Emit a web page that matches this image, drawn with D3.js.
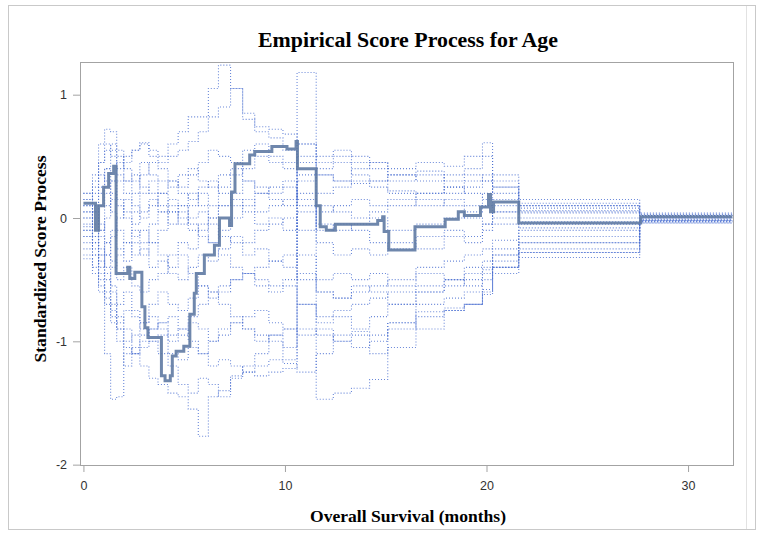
<!DOCTYPE html>
<html>
<head>
<meta charset="utf-8">
<script src="https://cdn.jsdelivr.net/npm/d3@7/dist/d3.min.js"></script>
<style>
body { margin: 0; background: #fff; }
</style>
</head>
<body>
<script>
//time grid shared by the simulated paths (months)
var simTimes = [0, 0.45, 0.75, 1.05, 1.35, 1.65, 2.0, 2.4, 2.8, 3.25, 3.7, 4.2, 4.7, 5.2, 5.7, 6.2, 6.7, 7.3, 7.9, 8.5, 9.2, 9.9, 10.6, 11.55, 12.4, 13.3, 14.2, 15.1, 16.5, 17.9, 18.9, 19.8, 20.3, 21.6, 27.6, 32.2];

//simulated score paths, one value per interval of simTimes
var sim1 = [0.15, 0.3, 0.45, 0.55, 0.6, 0.5, 0.45, 0.55, 0.6, 0.55, 0.5, 0.6, 0.7, 0.82, 0.82, 1.05, 1.24, 1.05, 0.85, 0.7, 0.65, 0.55, 0.45, 0.35, 0.3, 0.28, 0.3, 0.22, 0.2, 0.25, 0.3, 0.35, 0.25, 0.1, 0.03];
var sim2 = [-0.1, -0.2, -0.35, -0.5, -0.7, -0.85, -0.75, -0.8, -0.9, -1.0, -0.95, -1.1, -1.15, -1.05, -1.1, -1.2, -1.15, -1.2, -1.25, -1.28, -1.25, -1.22, 1.18, -1.47, -1.42, -1.38, -1.31, -1.05, -0.76, -0.73, -0.7, -0.58, -0.4, -0.28, -0.02];
var sim3 = [0.05, -0.15, -0.6, -1.1, -1.47, -1.45, -1.1, -1.05, -0.95, -0.9, -0.85, -0.95, -0.9, -0.8, -0.7, -0.6, -0.55, -0.5, -0.45, -0.5, -0.55, -0.5, -0.45, -0.6, -0.65, -0.6, -0.55, -0.5, -0.45, -0.5, -0.4, -0.35, -0.3, -0.2, -0.03];
var sim4 = [0.2, 0.35, 0.6, 0.72, 0.7, 0.55, 0.4, 0.3, 0.45, 0.35, 0.3, 0.25, 0.35, 0.4, 0.3, 0.25, 0.35, 0.4, 0.3, 0.2, 0.25, 0.3, 0.1, -0.1, -0.05, -0.1, -0.2, -0.25, -0.15, -0.1, -0.15, -0.05, 0.05, 0.12, 0.04];
var sim5 = [-0.3, -0.45, -0.55, -0.7, -0.8, -0.9, -1.05, -1.1, -1.2, -1.3, -1.35, -1.42, -1.45, -1.55, -1.77, -1.45, -1.4, -1.28, -1.25, -1.2, -1.15, -1.18, -1.25, -1.1, -0.95, -0.92, -0.95, -0.85, -0.7, -0.65, -0.6, -0.5, -0.4, -0.25, -0.04];
var sim6 = [0.1, 0.25, 0.45, 0.6, 0.5, 0.4, 0.5, 0.55, 0.61, 0.5, 0.45, 0.5, 0.55, 0.62, 0.7, 0.82, 0.9, 1.05, 0.8, 0.74, 0.72, 0.68, 0.6, 0.5, 0.55, 0.5, 0.45, 0.4, 0.45, 0.42, 0.5, 0.61, 0.35, 0.15, 0.02];
var sim7 = [-0.15, -0.05, 0.1, 0.2, 0.05, -0.1, -0.2, -0.3, -0.25, -0.4, -0.35, -0.45, -0.5, -0.4, -0.3, -0.35, -0.25, -0.15, -0.2, -0.1, -0.05, 0.0, -0.1, 0.05, 0.1, 0.15, 0.1, 0.15, 0.2, 0.25, 0.2, 0.15, 0.1, 0.05, 0.01];
var sim8 = [0.0, -0.1, -0.25, -0.4, -0.55, -0.7, -0.6, -0.75, -0.85, -0.8, -0.9, -1.0, -0.95, -0.85, -0.9, -1.0, -0.95, -0.85, -0.8, -0.75, -0.85, -0.9, -0.95, -0.9, -1.0, -0.95, -1.1, -0.85, -0.9, -0.75, -0.7, -0.62, -0.4, -0.32, -0.03];
var sim9 = [-0.07, 0.05, 0.25, 0.4, 0.55, 0.35, 0.3, 0.2, 0.35, 0.45, 0.4, 0.3, 0.25, 0.35, 0.45, 0.55, 0.5, 0.45, 0.4, 0.5, 0.45, 0.4, 0.35, 0.4, 0.45, 0.35, 0.3, 0.35, 0.38, 0.3, 0.35, 0.3, 0.2, 0.08, 0.03];
var sim10 = [-0.2, -0.3, -0.45, -0.6, -0.75, -0.9, -1.0, -0.95, -0.85, -0.7, -0.6, -0.7, -0.75, -0.65, -0.55, -0.6, -0.7, -0.8, -0.9, -0.95, -1.0, -1.05, -0.3, -0.5, -0.45, -0.5, -0.45, -0.55, -0.4, -0.35, -0.3, -0.25, -0.18, -0.05, -0.02];
var sim11 = [0.15, 0.05, -0.1, 0.0, 0.15, 0.3, 0.2, 0.1, 0.0, 0.1, 0.2, 0.3, 0.2, 0.15, 0.25, 0.3, 0.2, 0.1, 0.15, 0.05, 0.1, 0.15, 0.5, 0.2, 0.25, 0.3, 0.25, 0.2, 0.1, 0.15, 0.1, 0.2, 0.25, 0.06, 0.0];
var sim12 = [-0.25, -0.15, -0.3, -0.2, -0.35, -0.5, -0.4, -0.55, -0.6, -0.5, -0.45, -0.3, -0.2, -0.25, -0.1, 0.0, 0.1, 0.2, 0.3, 0.25, 0.2, 0.25, 0.15, -0.05, -0.1, -0.05, 0.0, -0.1, -0.05, 0.0, 0.05, 0.1, 0.0, -0.08, -0.01];
var sim13 = [0.05, 0.2, 0.35, 0.3, 0.2, 0.1, 0.05, -0.05, 0.05, 0.15, 0.05, -0.05, 0.05, -0.05, -0.15, -0.2, -0.1, 0.0, 0.1, 0.2, 0.15, 0.1, 0.3, 0.35, 0.3, 0.4, 0.45, 0.35, 0.3, 0.35, 0.4, 0.5, 0.3, 0.1, 0.02];
var sim14 = [-0.33, -0.4, -0.3, -0.45, -0.6, -0.8, -0.9, -1.1, -1.05, -1.0, -1.1, -1.2, -1.35, -1.42, -1.3, -1.35, -1.45, -1.3, -1.2, -1.1, -0.95, -0.9, -0.7, -0.8, -0.75, -0.7, -0.65, -0.6, -0.55, -0.5, -0.45, -0.42, -0.3, -0.2, -0.02];
var sim15 = [0.1, 0.0, -0.15, -0.3, -0.4, -0.3, -0.2, -0.1, -0.2, -0.05, 0.05, 0.15, 0.1, 0.0, 0.05, -0.05, -0.15, -0.2, -0.3, -0.25, -0.35, -0.3, 0.2, -0.2, -0.3, -0.25, -0.3, -0.2, -0.25, -0.15, -0.2, -0.1, -0.05, -0.03, 0.01];
var sim16 = [-0.1, -0.25, -0.1, 0.1, 0.3, 0.45, 0.3, 0.35, 0.25, 0.2, 0.1, 0.05, -0.05, 0.1, 0.2, 0.1, 0.25, 0.35, 0.55, 0.6, 0.5, 0.45, -0.5, -0.6, -0.65, -0.55, -0.6, -0.7, -0.6, -0.5, -0.55, -0.45, -0.35, -0.15, -0.03];
var sim17 = [0.0, 0.1, -0.05, -0.2, -0.1, -0.25, -0.35, -0.2, -0.3, -0.2, -0.3, -0.4, -0.3, -0.45, -0.55, -0.65, -0.6, -0.5, -0.45, -0.4, -0.35, -0.4, 0.6, 0.45, 0.5, 0.45, 0.4, 0.3, 0.35, 0.2, 0.25, 0.3, 0.15, 0.04, 0.02];
var sim18 = [-0.05, -0.2, -0.4, -0.3, -0.15, 0.0, 0.15, 0.05, 0.2, 0.3, 0.2, 0.1, 0.0, -0.1, -0.05, -0.2, -0.3, -0.4, -0.45, -0.55, -0.6, -0.55, -0.7, -0.85, -0.8, -0.9, -0.8, -0.7, -0.6, -0.55, -0.5, -0.4, -0.25, -0.1, -0.01];
var sim19 = [0.2, 0.1, 0.2, 0.4, 0.3, 0.15, 0.0, -0.15, -0.1, -0.2, -0.1, 0.05, 0.1, 0.2, 0.1, 0.0, 0.1, 0.15, 0.05, -0.05, 0.0, -0.1, 0.05, 0.1, 0.05, 0.0, 0.05, 0.1, 0.15, 0.1, 0.0, -0.05, 0.05, 0.0, 0.0];
var sim20 = [-0.15, -0.3, -0.5, -0.65, -0.85, -1.0, -1.2, -1.1, -1.0, -0.9, -0.85, -0.8, -0.9, -1.0, -1.1, -1.0, -0.9, -0.85, -0.9, -1.0, -0.95, -1.15, -0.9, -0.95, -1.0, -1.05, -1.0, -0.9, -0.8, -0.75, -0.7, -0.6, -0.45, -0.28, -0.04];

var simPaths = [sim1, sim2, sim3, sim4, sim5, sim6, sim7, sim8, sim9, sim10,
	sim11, sim12, sim13, sim14, sim15, sim16, sim17, sim18, sim19, sim20];

//observed score process (step starts)
var obsTimes = [0, 0.6, 0.75, 1.0, 1.25, 1.5, 1.62, 2.2, 2.3, 2.55, 2.9, 3.05, 3.2, 3.87, 4.05, 4.31, 4.41, 4.6, 4.98, 5.28, 5.5, 5.6, 6.0, 6.5, 6.75, 7.25, 7.35, 7.52, 8.25, 8.5, 9.35, 10.1, 10.55, 10.62, 11.55, 11.75, 12.05, 12.5, 14.6, 14.85, 14.92, 15.15, 16.45, 17.95, 18.6, 18.9, 19.7, 20.1, 20.2, 20.35, 21.6, 27.65, 32.2];
var obsValues = [0.12, -0.1, 0.1, 0.25, 0.36, 0.42, -0.45, -0.4, -0.49, -0.44, -0.72, -0.89, -0.97, -1.28, -1.32, -1.28, -1.12, -1.08, -1.04, -0.78, -0.61, -0.45, -0.3, -0.22, 0.0, -0.06, 0.21, 0.44, 0.51, 0.54, 0.58, 0.56, 0.62, 0.4, 0.1, -0.07, -0.1, -0.05, -0.02, 0.01, -0.11, -0.26, -0.07, -0.01, 0.05, 0.02, 0.09, 0.19, 0.05, 0.13, -0.04, 0.01, 0.01];

//axis ticks
var xTicks = [0, 10, 20, 30];
var yTicks = [-2, -1, 0, 1];

window.onload = drawChart();
function drawChart(){

	var width = 762,
		height = 533;

	var svg = d3.select("body")
		.append("svg")
		.attr("width", width)
		.attr("height", height);

	//outer frame of the graph
	svg.append("rect")
		.attr("x", 8.5)
		.attr("y", 5.5)
		.attr("width", 747)
		.attr("height", 524)
		.attr("fill", "none")
		.attr("stroke", "#c9c9c9");
	svg.append("line")
		.attr("x1", 746.5).attr("x2", 746.5)
		.attr("y1", 6).attr("y2", 529)
		.attr("stroke", "#e2e2e2");

	//plot area
	var left = 80, right = 734, top = 62, bottom = 466;

	var x = d3.scaleLinear()
		.domain([-0.17, 32.28])
		.range([left, right]);

	var y = d3.scaleLinear()
		.domain([-2.011, 1.265])
		.range([bottom, top]);

	svg.append("clipPath")
		.attr("id", "plotClip")
		.append("rect")
		.attr("x", left)
		.attr("y", top)
		.attr("width", right - left)
		.attr("height", bottom - top);

	var line = d3.line()
		.x(function(d){ return x(d[0]); })
		.y(function(d){ return y(d[1]); })
		.curve(d3.curveStepAfter);

	//simulated paths: pair each value with its interval start, hold the last one to the end
	var simData = simPaths.map(function(vals){
		var pts = vals.map(function(v, i){ return [simTimes[i], v]; });
		pts.push([simTimes[simTimes.length - 1], vals[vals.length - 1]]);
		return pts;
	});

	var plot = svg.append("g")
		.attr("clip-path", "url(#plotClip)");

	plot.selectAll(".sim")
		.data(simData)
		.enter()
		.append("path")
		.attr("class", "sim")
		.attr("d", line)
		.attr("fill", "none")
		.attr("stroke", "#456ad0")
		.attr("stroke-opacity", 0.8)
		.attr("stroke-width", 1.1)
		.attr("stroke-dasharray", "1,2");

	//observed process
	var obsData = obsTimes.map(function(t, i){ return [t, obsValues[i]]; });

	plot.append("path")
		.datum(obsData)
		.attr("class", "observed")
		.attr("d", line)
		.attr("fill", "none")
		.attr("stroke", "#5f7aa3")
		.attr("stroke-opacity", 0.9)
		.attr("stroke-width", 3)
		.attr("stroke-linejoin", "miter");

	//plot frame
	svg.append("rect")
		.attr("x", left + 0.5)
		.attr("y", top + 0.5)
		.attr("width", right - left - 1)
		.attr("height", bottom - top - 1)
		.attr("fill", "none")
		.attr("stroke", "#a3a3a3");

	var fmt = function(d){ return String(d); };

	//x axis
	var xAxis = svg.append("g")
		.attr("transform", "translate(0," + bottom + ")")
		.call(d3.axisBottom(x).tickValues(xTicks).tickSize(6).tickPadding(9).tickFormat(fmt));
	xAxis.select(".domain").remove();

	//y axis
	var yAxis = svg.append("g")
		.attr("transform", "translate(" + left + ",0)")
		.call(d3.axisLeft(y).tickValues(yTicks).tickSize(7).tickPadding(6).tickFormat(fmt));
	yAxis.select(".domain").remove();

	svg.selectAll(".tick line").attr("stroke", "#a3a3a3");
	svg.selectAll(".tick text")
		.attr("fill", "#333")
		.style("font-family", "'Liberation Sans', Arial, sans-serif")
		.style("font-size", "12.5px");

	//title and axis labels
	svg.append("text")
		.attr("x", 408)
		.attr("y", 47)
		.attr("text-anchor", "middle")
		.attr("textLength", 300)
		.attr("lengthAdjust", "spacingAndGlyphs")
		.style("font-family", "'Liberation Serif', 'Times New Roman', serif")
		.style("font-weight", "bold")
		.style("font-size", "22px")
		.text("Empirical  Score Process for Age");

	svg.append("text")
		.attr("x", 408)
		.attr("y", 522)
		.attr("text-anchor", "middle")
		.attr("textLength", 196)
		.attr("lengthAdjust", "spacingAndGlyphs")
		.style("font-family", "'Liberation Serif', 'Times New Roman', serif")
		.style("font-weight", "bold")
		.style("font-size", "16px")
		.text("Overall Survival (months)");

	svg.append("text")
		.attr("transform", "translate(46,259) rotate(-90)")
		.attr("text-anchor", "middle")
		.attr("textLength", 207)
		.attr("lengthAdjust", "spacingAndGlyphs")
		.style("font-family", "'Liberation Serif', 'Times New Roman', serif")
		.style("font-weight", "bold")
		.style("font-size", "16px")
		.text("Standardized Score Process");
};
</script>
</body>
</html>
